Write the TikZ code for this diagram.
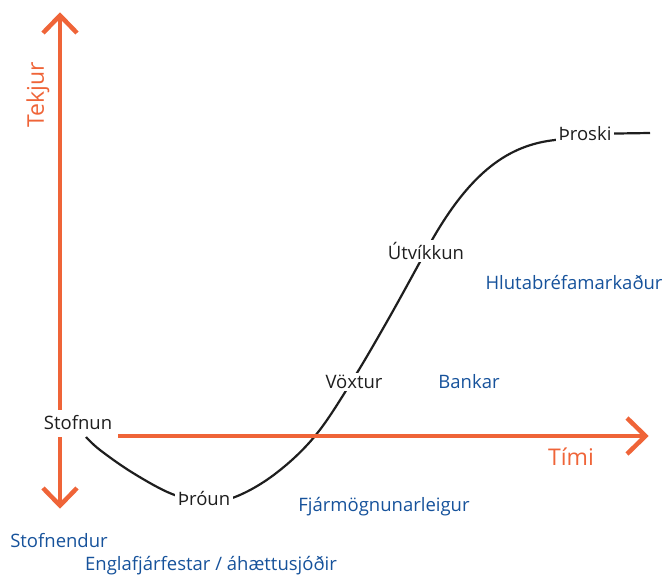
\documentclass[tikz,border=0pt]{standalone}
\usepackage{fontspec}
\setmainfont{Open Sans}
\definecolor{axisor}{RGB}{239,100,56}
\definecolor{fundblue}{RGB}{22,82,155}
\definecolor{txtdark}{RGB}{30,30,30}
\begin{document}
\begin{tikzpicture}[x=1pt,y=-1pt,
  axisline/.style={draw=axisor,line width=4.5pt},
  tipline/.style={draw=axisor,line width=4.5pt,line cap=butt},
  axislabel/.style={text=axisor,font=\fontsize{23}{27}\selectfont},
  stage/.style={fill=white,text=txtdark,inner sep=2.5pt,font=\fontsize{18.5}{22}\selectfont},
  fund/.style={text=fundblue,inner sep=1pt,font=\fontsize{18.5}{22}\selectfont},
  curveline/.style={draw=txtdark,line width=2.2pt}]
\useasboundingbox (0,0) rectangle (664,575);
% coordinates of axes
\coordinate (ytop) at (60,15);
\coordinate (ybot) at (60,506);
\coordinate (xstart) at (118,436);
\coordinate (xtip) at (645,436);
% S-curve
\draw[curveline] plot[smooth,tension=0.6] coordinates{(86,437) (100,450) (133,473) (172,494) (204,501) (235,497) (275,474) (315,436) (352,381) (389,318) (427,249)};
\draw[curveline] (427,249) .. controls (470,170) and (510,145) .. (555,140) .. controls (570,137) .. (585,134) -- (650,133);
% vertical axis
\draw[axisline] (ytop) -- (60,410);
\draw[axisline] (60,437) -- (ybot);
\draw[tipline] (43,33) -- ([yshift=-0.5pt]ytop) -- (77,33);
\draw[tipline] (43,488) -- ([yshift=0.5pt]ybot) -- (77,488);
% horizontal axis
\draw[axisline] (xstart) -- (xtip);
\draw[tipline] (627,418) -- ([xshift=0.5pt]xtip) -- (627,454);
% axis labels
\node[axislabel,rotate=90] (tekjur) at (38,95) {Tekjur};
\node[axislabel] (timi) at (571,457) {Tími};
% stage labels
\node[stage] (stofnun) at (78,423) {Stofnun};
\node[stage] (throun) at (204,499) {Þróun};
\node[stage] (voxtur) at (354,382) {Vöxtur};
\node[stage] (utvikkun) at (426,251) {Útvíkkun};
\node[stage] (throski) at (585,134) {Þroski};
% funding labels
\node[fund] (bankar) at (469,382) {Bankar};
\node[fund] (hluta) at (574,283) {Hlutabréfamarkaður};
\node[fund] (fjarm) at (384,507) {Fjármögnunarleigur};
\node[fund] (stofnendur) at (59,541) {Stofnendur};
\node[fund] (engla) at (211,566) {Englafjárfestar / áhættusjóðir};
\end{tikzpicture}
\end{document}
